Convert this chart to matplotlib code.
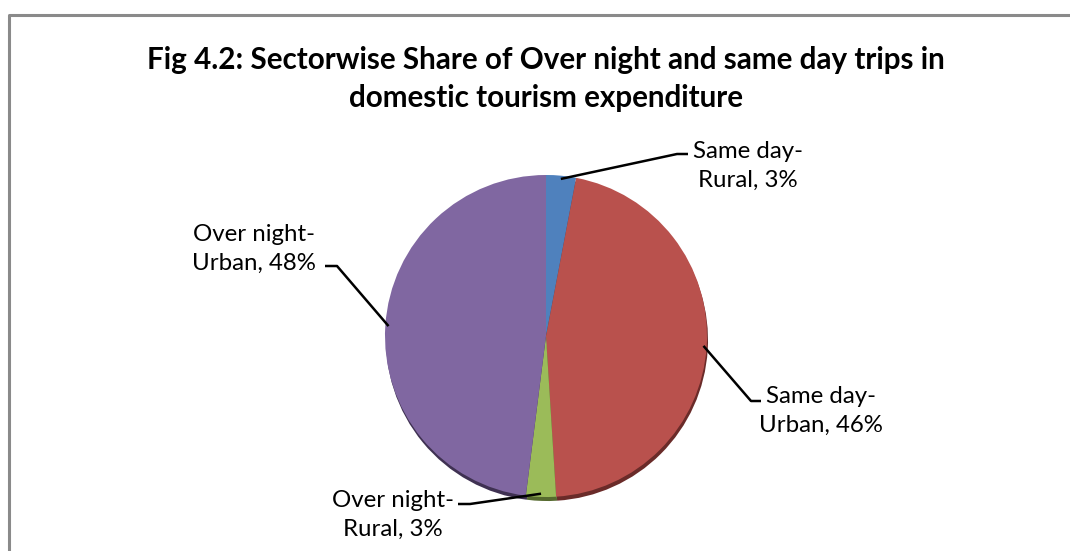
import numpy as np
import matplotlib
matplotlib.use("Agg")
import matplotlib.pyplot as plt

W, H = 1070, 551

labels = ["Same day-\nRural", "Same day-\nUrban", "Over night-\nRural", "Over night-\nUrban"]
shares = [3, 46, 3, 48]
colors = ["#4F81BD", "#B9514D", "#9BBB59", "#8067A1"]
shade = ["#2E4B70", "#6A2B29", "#566A2F", "#3F3152"]

# label text centre and leader elbow for each slice (pixel coords, y from top)
label_pos = [(748, 166), (821, 411), (393, 515), (254, 249)]
elbows = [[(677, 154), (688, 154)],
          [(751, 401), (761, 401)],
          [(470, 504), (458, 504)],
          [(337, 266), (325, 266)]]

plt.rcParams['font.family'] = ['Lato', 'DejaVu Sans']

fig = plt.figure(figsize=(W / 100, H / 100), dpi=100)
ax = fig.add_axes([0, 0, 1, 1])

cx, cy, r = 546, H - 336, 161

# darker copy underneath gives the bottom rim
ax.pie(shares, colors=shade, startangle=90, counterclock=False,
       center=(cx + 1, cy - 4), radius=r, frame=True,
       wedgeprops=dict(linewidth=0))
wedges, _ = ax.pie(shares, colors=colors, startangle=90, counterclock=False,
                   center=(cx, cy), radius=r, frame=True,
                   wedgeprops=dict(linewidth=0))

for w, lab, val, (tx, ty), elb in zip(wedges, labels, shares, label_pos, elbows):
    mid = np.deg2rad((w.theta1 + w.theta2) / 2)
    ax_ = w.center[0] + 0.98 * r * np.cos(mid)
    ay_ = w.center[1] + 0.98 * r * np.sin(mid)
    xs = [ax_] + [p[0] for p in elb]
    ys = [ay_] + [H - p[1] for p in elb]
    ax.plot(xs, ys, color="black", lw=1.8, solid_capstyle="butt")
    ax.text(tx, H - ty, f"{lab}, {val}%", ha="center", va="center",
            fontsize=17.3, linespacing=1.5, color="black")

ax.text(546, H - 79, "Fig 4.2: Sectorwise Share of Over night and same day trips in\n"
        "domestic tourism expenditure", ha="center", va="center",
        fontsize=21.3, fontweight="bold", linespacing=1.4)

# chart frame
ax.plot([9, 9, W + 5], [-5, H - 15, H - 15], color="#8A8A8A", lw=2.2)

ax.set_xlim(0, W)
ax.set_ylim(0, H)
ax.set_aspect("equal")
ax.axis("off")

fig.savefig("out.png", dpi=100)
